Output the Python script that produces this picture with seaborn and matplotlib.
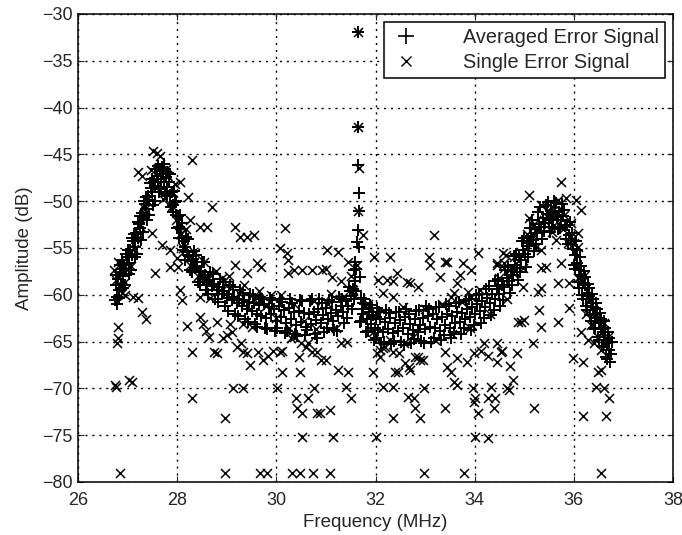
import numpy as np
import pandas as pd
import matplotlib
matplotlib.use('Agg')
import matplotlib.pyplot as plt
import seaborn as sns
from matplotlib.lines import Line2D

# averaged error signal (frequency in MHz, amplitude in dB)
avg_freq = [
    26.74, 26.76, 26.78, 26.80, 26.82, 26.84, 26.86, 26.88, 26.90, 26.93,
    26.96, 26.99, 27.02, 27.05, 27.08, 27.11, 27.14, 27.17, 27.20, 27.23,
    27.26, 27.29, 27.32, 27.35, 27.38, 27.41, 27.44, 27.47, 27.50, 27.53,
    27.56, 27.59, 27.62, 27.65, 27.68, 27.71, 27.74, 27.77, 27.80, 27.83,
    27.86, 27.89, 27.92, 27.95, 27.98, 28.01, 28.04, 28.07, 28.10, 28.13,
    28.16, 28.20, 28.24, 28.28, 28.32, 28.36, 28.40, 28.44, 28.48, 28.52,
    28.56, 28.60, 28.65, 28.70, 28.75, 28.80, 28.85, 28.90, 28.95, 29.00,
    29.05, 29.10, 29.15, 29.20, 29.25, 29.30, 29.35, 29.40, 29.45, 29.50,
    29.55, 29.60, 29.65, 29.70, 29.75, 29.80, 29.85, 29.90, 29.95, 30.00,
    30.05, 30.10, 30.15, 30.20, 30.25, 30.30, 30.35, 30.40, 30.45, 30.50,
    30.55, 30.60, 30.65, 30.70, 30.75, 30.80, 30.85, 30.90, 30.95, 31.00,
    31.05, 31.10, 31.15, 31.20, 31.25, 31.30, 31.35, 31.40, 31.45, 31.50,
    31.54, 31.58, 31.61, 31.63, 31.64, 31.64, 31.65, 31.65, 31.66, 31.66,
    31.67, 31.68, 31.70, 31.72, 31.75, 31.78, 31.82, 31.86, 31.90, 31.94,
    31.98, 32.02, 32.06, 32.10, 32.15, 32.20, 32.25, 32.30, 32.35, 32.40,
    32.45, 32.50, 32.55, 32.60, 32.65, 32.70, 32.75, 32.80, 32.85, 32.90,
    32.95, 33.00, 33.05, 33.10, 33.15, 33.20, 33.25, 33.30, 33.35, 33.40,
    33.45, 33.50, 33.55, 33.60, 33.65, 33.70, 33.75, 33.80, 33.85, 33.90,
    33.95, 34.00, 34.05, 34.10, 34.15, 34.20, 34.25, 34.30, 34.35, 34.40,
    34.45, 34.50, 34.55, 34.60, 34.65, 34.70, 34.74, 34.78, 34.82, 34.86,
    34.90, 34.94, 34.98, 35.02, 35.06, 35.10, 35.14, 35.18, 35.22, 35.26,
    35.30, 35.34, 35.38, 35.42, 35.46, 35.50, 35.54, 35.58, 35.62, 35.66,
    35.70, 35.74, 35.78, 35.82, 35.86, 35.90, 35.94, 35.98, 36.02, 36.06,
    36.10, 36.14, 36.18, 36.22, 36.26, 36.30, 36.34, 36.38, 36.42, 36.46,
    36.50, 36.54, 36.58, 36.62, 36.66, 36.70, 36.74,
]
avg_amp = [
    -60.6, -59.0, -60.2, -58.3, -59.5, -57.6, -58.9, -57.2, -58.0, -56.8,
    -57.4, -56.0, -56.6, -55.2, -55.8, -54.3, -54.9, -53.4, -53.9, -52.4,
    -52.9, -51.3, -51.8, -50.3, -50.8, -49.4, -49.9, -48.6, -49.0, -47.9,
    -48.4, -47.3, -47.9, -46.8, -47.6, -47.1, -48.0, -47.4, -48.5, -48.0,
    -49.3, -49.0, -50.4, -50.1, -51.5, -51.6, -52.8, -53.0, -53.9, -54.2,
    -54.9, -55.4, -55.9, -56.4, -56.2, -57.1, -56.9, -57.6, -57.5, -58.2,
    -57.9, -58.6, -58.4, -59.1, -58.8, -59.5, -59.2, -59.9, -59.6, -60.3,
    -59.9, -60.6, -60.2, -60.9, -60.4, -61.2, -60.6, -61.5, -60.8, -61.7,
    -60.9, -62.0, -61.1, -62.3, -61.0, -62.5, -61.3, -62.1, -61.5, -62.8,
    -61.2, -62.4, -61.6, -63.0, -61.4, -62.6, -61.8, -63.2, -61.7, -62.9,
    -61.9, -63.4, -62.0, -63.1, -61.8, -62.7, -61.5, -63.0, -62.2, -61.4,
    -62.6, -61.9, -62.8, -61.6, -62.3, -61.2, -61.8, -60.7, -61.2, -60.1,
    -59.4, -58.5, -57.2, -54.4, -53.1, -46.1, -42.1, -31.9, -49.1, -51.1,
    -54.9, -58.1, -60.3, -61.5, -62.0, -61.0, -62.6, -61.8, -63.1, -62.2,
    -63.5, -62.4, -63.8, -62.6, -64.0, -62.9, -63.7, -62.5, -64.1, -63.0,
    -63.9, -62.7, -63.6, -62.4, -64.2, -63.1, -63.8, -62.6, -64.0, -63.2,
    -62.5, -63.7, -62.3, -63.4, -62.1, -63.6, -62.6, -63.9, -62.4, -63.2,
    -62.0, -63.5, -62.3, -63.0, -61.8, -62.9, -61.9, -62.6, -61.5, -62.4,
    -61.3, -62.0, -61.0, -61.7, -60.7, -61.3, -60.3, -60.9, -59.9, -60.4,
    -59.4, -59.9, -58.9, -59.2, -58.2, -58.5, -57.5, -57.9, -56.8, -57.1,
    -56.0, -56.3, -55.2, -55.6, -54.5, -54.8, -53.7, -54.1, -53.0, -53.4,
    -52.4, -52.8, -51.8, -52.3, -51.4, -52.0, -51.1, -51.8, -51.0, -51.7,
    -51.2, -52.0, -51.6, -52.6, -52.5, -53.6, -54.0, -55.1, -55.8, -56.6,
    -57.4, -57.9, -58.7, -59.0, -59.8, -60.1, -60.9, -61.3, -62.0, -62.5,
    -63.0, -63.7, -64.0, -64.8, -65.2, -65.9, -66.3,
]

# second pass of averaged readings, the outer edges of the band
avg2_freq = [
    26.79, 26.85, 26.91, 26.97, 27.03, 27.09, 27.15, 27.21, 27.27, 27.33,
    27.39, 27.45, 27.51, 27.57, 27.63, 27.69, 27.75, 27.81, 27.87, 27.93,
    27.99, 28.05, 28.11, 28.18, 28.26, 28.34, 28.42, 28.50, 28.58, 28.67,
    28.77, 28.87, 28.97, 29.07, 29.17, 29.27, 29.37, 29.47, 29.57, 29.67,
    29.77, 29.87, 29.97, 30.07, 30.17, 30.27, 30.37, 30.47, 30.57, 30.67,
    30.77, 30.87, 30.97, 31.07, 31.17, 31.27, 31.37, 31.47, 31.52, 31.57,
    31.60, 31.71, 31.76, 31.80, 31.88, 31.96, 32.04, 32.12, 32.22, 32.32,
    32.42, 32.52, 32.62, 32.72, 32.82, 32.92, 33.02, 33.12, 33.22, 33.32,
    33.42, 33.52, 33.62, 33.72, 33.82, 33.92, 34.02, 34.12, 34.22, 34.32,
    34.42, 34.52, 34.62, 34.72, 34.80, 34.88, 34.96, 35.04, 35.12, 35.20,
    35.28, 35.36, 35.44, 35.52, 35.60, 35.68, 35.76, 35.84, 35.92, 36.00,
    36.04, 36.08, 36.12, 36.16, 36.20, 36.24, 36.28, 36.32, 36.36, 36.40,
    36.44, 36.48, 36.52, 36.56, 36.60, 36.64, 36.68, 36.72, 36.76,
]
avg2_amp = [
    -61.0, -56.8, -59.3, -55.6, -57.8, -53.9, -56.0, -52.2, -54.1, -50.0,
    -52.0, -48.1, -50.4, -46.6, -49.0, -46.3, -49.2, -47.0, -50.6, -48.9,
    -52.9, -51.5, -55.2, -53.8, -57.4, -55.3, -58.6, -56.5, -59.5, -57.6,
    -60.4, -58.3, -61.2, -58.9, -62.0, -59.5, -62.6, -59.9, -63.1, -60.2,
    -63.5, -60.3, -63.9, -60.4, -64.1, -60.5, -64.2, -60.6, -64.3, -60.7,
    -64.2, -60.5, -64.0, -60.6, -63.8, -60.2, -63.0, -59.2, -61.5, -57.3,
    -59.6, -62.8, -60.4, -64.0, -61.1, -64.8, -61.4, -65.2, -61.6, -65.3,
    -61.8, -65.0, -61.5, -65.2, -61.7, -64.9, -61.2, -65.0, -61.3, -64.8,
    -61.0, -64.6, -60.9, -64.2, -60.6, -63.8, -60.0, -63.0, -59.4, -62.2,
    -58.5, -61.2, -57.4, -59.8, -55.9, -58.4, -54.3, -57.0, -52.9, -55.3,
    -51.2, -54.0, -50.4, -53.3, -50.0, -53.0, -50.3, -54.0, -52.2, -56.8,
    -54.3, -58.6, -56.0, -60.0, -57.5, -61.2, -58.8, -62.2, -59.9, -63.5,
    -60.9, -64.5, -61.9, -65.5, -62.8, -66.6, -64.0, -67.2, -65.0,
]

# third pass of averaged readings
avg3_freq = [
    26.77, 26.83, 26.89, 26.95, 27.01, 27.07, 27.13, 27.19, 27.25, 27.31,
    27.37, 27.43, 27.49, 27.55, 27.61, 27.67, 27.73, 27.79, 27.85, 27.91,
    27.97, 28.03, 28.09, 28.15, 28.22, 28.30, 28.38, 28.46, 28.54, 28.62,
    28.72, 28.82, 28.92, 29.02, 29.12, 29.22, 29.32, 29.42, 29.52, 29.62,
    29.72, 29.82, 29.92, 30.02, 30.12, 30.22, 30.32, 30.42, 30.52, 30.62,
    30.72, 30.82, 30.92, 31.02, 31.12, 31.22, 31.32, 31.42, 31.48, 31.56,
    31.59, 31.69, 31.74, 31.84, 31.92, 32.00, 32.08, 32.18, 32.28, 32.38,
    32.48, 32.58, 32.68, 32.78, 32.88, 32.98, 33.08, 33.18, 33.28, 33.38,
    33.48, 33.58, 33.68, 33.78, 33.88, 33.98, 34.08, 34.18, 34.28, 34.38,
    34.48, 34.58, 34.68, 34.76, 34.84, 34.92, 35.00, 35.08, 35.16, 35.24,
    35.32, 35.40, 35.48, 35.56, 35.64, 35.72, 35.80, 35.88, 35.96, 36.03,
    36.07, 36.11, 36.15, 36.19, 36.23, 36.27, 36.31, 36.35, 36.39, 36.43,
    36.47, 36.51, 36.55, 36.59, 36.63, 36.67, 36.71,
]
avg3_amp = [
    -57.9, -60.3, -56.3, -58.9, -55.2, -57.3, -53.5, -55.6, -51.6, -53.3,
    -49.6, -51.5, -47.6, -50.0, -46.2, -48.7, -46.0, -49.4, -47.1, -51.2,
    -50.0, -53.9, -52.3, -56.3, -54.0, -57.6, -55.7, -58.9, -56.5, -59.9,
    -57.8, -60.8, -58.6, -61.7, -59.2, -62.3, -59.8, -62.9, -60.0, -63.4,
    -60.4, -63.7, -60.6, -63.5, -60.8, -63.9, -60.9, -64.4, -60.7, -63.8,
    -60.4, -64.6, -60.9, -63.6, -60.8, -63.9, -60.5, -62.5, -59.6, -60.5,
    -56.5, -62.9, -60.9, -63.9, -61.4, -64.6, -61.8, -65.0, -61.9, -64.9,
    -61.8, -65.4, -62.0, -64.7, -61.6, -65.1, -61.5, -64.6, -61.3, -64.3,
    -61.2, -64.0, -60.8, -63.6, -60.5, -63.2, -59.9, -62.5, -59.1, -61.6,
    -58.3, -60.6, -57.0, -59.0, -55.6, -57.6, -53.9, -56.0, -52.0, -54.6,
    -50.6, -53.2, -50.1, -52.8, -50.2, -52.9, -50.9, -54.6, -53.4, -57.2,
    -55.2, -59.3, -56.9, -60.5, -58.1, -61.6, -59.3, -62.8, -60.4, -63.7,
    -61.5, -64.8, -62.6, -65.6, -63.5, -66.9, -64.6,
]

# single error signal, (frequency, amplitude) read region by region
single_left = [
    (26.72, -57.4), (26.76, -58.4), (26.80, -63.4), (26.80, -64.6), (26.78, -65.1),
    (26.75, -69.6), (26.77, -69.9), (27.02, -69.1), (27.08, -69.3), (26.85, -79.0),
    (26.80, -56.5), (26.88, -59.8), (26.95, -58.6), (27.00, -57.2), (27.06, -56.9),
    (27.12, -55.1), (27.18, -54.0), (27.20, -60.3), (27.30, -61.8), (27.38, -62.6),
    (27.26, -52.6), (27.35, -50.8), (27.42, -50.1), (27.20, -46.9), (27.30, -47.3),
    (27.48, -46.7), (27.50, -53.4), (27.55, -57.7), (27.52, -44.6), (27.60, -44.8),
    (27.66, -45.2), (27.78, -46.6), (27.70, -54.7), (27.86, -55.2), (27.86, -57.0),
    (27.95, -48.2), (28.06, -47.9), (28.22, -49.5), (28.30, -45.6), (28.06, -59.5),
    (28.10, -60.6), (28.20, -63.3), (28.25, -52.0), (28.46, -52.8), (28.60, -52.8),
    (28.71, -50.6), (28.46, -60.2), (28.66, -60.3), (28.46, -62.4), (28.53, -63.1),
    (28.58, -63.9), (28.64, -64.5), (28.80, -62.9), (28.30, -66.1), (28.74, -66.1),
    (28.80, -66.2), (28.93, -64.6), (26.95, -60.0), (27.10, -60.2), (28.00, -56.1),
    (28.02, -57.0), (28.30, -71.0), (28.97, -73.2), (28.97, -79.0),
    (27.55, -48.5), (27.62, -46.5), (27.72, -49.8), (27.80, -47.2), (27.90, -50.5),
    (27.98, -52.0), (28.05, -53.5), (28.12, -55.0), (28.18, -53.0), (28.25, -56.8),
    (28.35, -55.5), (28.42, -58.0), (28.55, -56.5), (28.62, -58.3), (28.78, -57.5),
    (28.90, -58.2),
]
single_mid = [
    (29.00, -64.3), (29.10, -64.0), (29.20, -65.6), (29.28, -65.2), (29.33, -66.1),
    (29.07, -63.1), (29.33, -63.1), (29.50, -63.4), (29.17, -52.8), (29.27, -53.8),
    (29.41, -53.8), (29.54, -53.6), (29.17, -56.8), (29.41, -57.7), (29.60, -56.6),
    (29.70, -57.0), (29.41, -66.2), (29.47, -67.5), (29.64, -66.1), (29.74, -67.0),
    (29.84, -66.5), (29.94, -66.0), (30.12, -66.0), (29.13, -70.0), (29.33, -70.0),
    (30.02, -70.0), (29.68, -79.0), (29.82, -79.0), (30.18, -52.9), (30.08, -55.0),
    (30.22, -55.5), (30.24, -56.3), (31.03, -55.2), (31.25, -55.4), (30.24, -57.7),
    (30.35, -57.4), (30.52, -57.4), (30.72, -57.4), (30.92, -57.4), (31.00, -57.2),
    (31.13, -58.1), (30.10, -60.0), (30.35, -61.0), (30.75, -60.7), (31.10, -59.9),
    (30.35, -64.5), (30.45, -66.6), (30.63, -65.1), (30.83, -66.1), (31.00, -67.0),
    (31.43, -65.0), (30.08, -66.1), (30.30, -64.6), (30.50, -65.1), (30.60, -65.6),
    (30.72, -66.1), (30.90, -67.0), (31.30, -65.1), (30.12, -68.2), (30.48, -68.2),
    (31.25, -68.0), (31.45, -68.2), (30.42, -72.1), (30.52, -72.6), (30.63, -71.0),
    (30.83, -72.6), (30.89, -72.6), (31.09, -72.3), (30.75, -70.0), (31.40, -69.9),
    (31.50, -71.0), (30.40, -71.0), (30.52, -75.2), (31.15, -75.2), (30.32, -79.0),
    (30.48, -79.0), (30.73, -79.0), (31.09, -79.0),
    (29.00, -59.0), (29.05, -58.0), (29.25, -59.8), (29.35, -58.9), (29.55, -60.5),
    (29.65, -59.6), (29.80, -61.2), (29.90, -60.0), (30.00, -62.5), (30.25, -63.5),
    (30.55, -62.8), (30.80, -63.7), (31.05, -61.0), (31.20, -63.5), (31.35, -60.2),
    (31.50, -58.0), (31.55, -59.5), (31.45, -56.5), (31.30, -58.5),
    (31.64, -31.9), (31.65, -42.1), (31.66, -46.5), (31.64, -51.1), (31.62, -56.8),
]
single_right = [
    (31.74, -53.6), (31.94, -68.2), (32.00, -75.2), (31.96, -56.0), (32.30, -56.0),
    (32.44, -57.7), (32.06, -58.4), (32.24, -58.4), (32.36, -60.2), (32.64, -58.6),
    (32.85, -59.2), (33.07, -56.0), (33.10, -56.8), (33.30, -58.1), (33.40, -56.5),
    (33.17, -53.6), (32.70, -58.7), (32.36, -58.5), (32.16, -59.8), (33.45, -56.5),
    (33.76, -56.6), (33.92, -57.4), (34.06, -55.5), (34.46, -56.6), (34.63, -55.7),
    (34.60, -56.6), (33.70, -57.9), (33.65, -58.7), (33.58, -59.8), (33.52, -60.2),
    (33.86, -59.7), (33.92, -60.2), (34.57, -55.5), (34.46, -56.8), (34.59, -57.1),
    (32.04, -66.2), (32.10, -66.6), (32.20, -65.6), (32.46, -68.2), (32.60, -67.3),
    (32.70, -68.0), (32.85, -66.6), (32.90, -67.0), (32.57, -65.1), (32.10, -65.9),
    (32.16, -65.7), (32.36, -66.1), (32.48, -66.2), (32.80, -66.6), (32.95, -67.0),
    (32.40, -68.2), (32.68, -67.7), (33.40, -66.1), (33.45, -67.7), (33.65, -66.8),
    (33.85, -67.2), (34.12, -66.0), (34.26, -66.5), (34.46, -67.2), (34.56, -66.0),
    (34.72, -67.6), (34.86, -66.2), (33.52, -68.2), (33.58, -69.3), (33.65, -69.6),
    (33.98, -66.2), (34.18, -65.1), (34.46, -65.1), (34.53, -66.1), (35.17, -65.1),
    (32.16, -69.9), (32.36, -69.9), (32.97, -70.0), (33.97, -70.0), (34.32, -69.9),
    (34.66, -70.0), (34.78, -69.1), (32.65, -70.9), (32.77, -71.0), (32.80, -72.1),
    (32.90, -73.2), (32.36, -73.2), (33.40, -72.1), (34.00, -71.0), (34.06, -72.6),
    (34.26, -71.0), (34.42, -71.0), (34.38, -72.1), (33.98, -71.5), (34.69, -70.2),
    (34.00, -75.2), (34.26, -75.3), (32.97, -79.0), (33.78, -79.0),
    (31.85, -61.0), (31.95, -64.0), (32.05, -62.2), (32.30, -64.8), (32.55, -61.3),
    (32.75, -64.5), (33.00, -61.5), (33.20, -64.8), (33.35, -61.0), (33.55, -64.2),
    (33.75, -60.8), (33.90, -63.5), (34.10, -59.5), (34.30, -62.0), (34.50, -58.2),
    (34.65, -60.5), (34.80, -56.0),
]
single_peak2 = [
    (35.74, -47.9), (35.10, -49.3), (35.33, -50.4), (35.54, -50.6), (35.68, -49.9),
    (35.84, -49.7), (36.04, -49.9), (36.14, -50.9), (35.10, -51.8), (35.17, -52.5),
    (36.08, -53.4), (35.64, -54.1), (35.88, -54.5), (36.00, -54.5), (35.13, -54.1),
    (35.23, -54.9), (35.33, -55.2), (34.78, -57.7), (34.97, -57.1), (35.33, -57.1),
    (35.43, -57.0), (35.74, -56.6), (35.90, -58.7), (35.68, -58.7), (36.08, -58.2),
    (35.27, -59.7), (35.33, -59.3), (34.97, -59.2), (35.29, -61.6), (35.33, -63.4),
    (35.68, -62.9), (35.90, -61.4), (34.87, -62.9), (34.93, -62.9), (35.00, -62.7),
    (36.08, -54.9), (35.05, -53.5), (35.40, -52.0), (35.50, -51.0), (35.60, -52.5),
    (35.70, -50.8), (35.80, -51.5), (35.95, -52.3), (35.55, -53.3), (35.78, -53.0),
    (36.14, -64.0), (36.28, -64.8), (36.40, -65.2), (36.48, -64.5), (36.54, -65.9),
    (35.98, -66.8), (36.18, -67.2), (36.48, -68.2), (36.54, -68.0), (36.44, -69.9),
    (36.60, -70.0), (36.70, -71.0), (36.18, -73.0), (36.65, -73.0), (35.20, -72.1),
    (36.54, -79.0), (36.20, -58.0), (36.30, -60.5), (36.40, -61.8), (36.45, -62.6),
    (36.60, -63.0), (36.68, -64.5), (36.25, -62.0), (36.35, -63.2),
]

avg_df = pd.DataFrame({'freq': avg_freq + avg2_freq + avg3_freq,
                       'amp': avg_amp + avg2_amp + avg3_amp})
single_df = pd.DataFrame(single_left + single_mid + single_right + single_peak2,
                         columns=['freq', 'amp'])

sns.set_style('ticks')
plt.rcParams['font.family'] = ['Liberation Sans', 'DejaVu Sans']

fig = plt.figure(figsize=(6.82, 5.35), dpi=100)
ax = fig.add_axes([78 / 682, 1 - 482 / 535, 595 / 682, 468 / 535])

sns.scatterplot(data=avg_df, x='freq', y='amp', marker='+', color='black',
                s=80, linewidth=1.4, ax=ax, zorder=3)
sns.scatterplot(data=single_df, x='freq', y='amp', marker='x', color='black',
                s=42, linewidth=1.1, ax=ax, zorder=3)

ax.set_xlim(26, 38)
ax.set_ylim(-80, -30)
ax.set_xticks(np.arange(26, 39, 2))
ax.set_yticks(np.arange(-80, -29, 5))
ax.grid(True, color='black', linestyle=(0, (1.5, 3.5)), linewidth=1.0)
ax.tick_params(direction='in', top=True, right=True, labelsize=13, length=4)
ax.tick_params(axis='x', pad=7)
ax.tick_params(axis='y', pad=4)
for sp in ax.spines.values():
    sp.set_color('black')
    sp.set_linewidth(1.1)

ax.set_xlabel('Frequency (MHz)', fontsize=13.5, labelpad=4)
ax.set_ylabel('Amplitude (dB)', fontsize=13.5, labelpad=6)

handles = [
    Line2D([], [], marker='+', linestyle='none', color='black', markersize=12, markeredgewidth=1.2),
    Line2D([], [], marker='x', linestyle='none', color='black', markersize=7, markeredgewidth=1.0),
]
leg = ax.legend(handles, ['Averaged Error Signal', 'Single Error Signal'],
                loc='upper right', fontsize=14.3, frameon=True, fancybox=False,
                framealpha=1, edgecolor='black', borderaxespad=0.4,
                handlelength=1.7, handletextpad=2.0, labelspacing=0.3, borderpad=0.3)
leg.get_frame().set_linewidth(1.1)

fig.savefig('out.png', dpi=100)
